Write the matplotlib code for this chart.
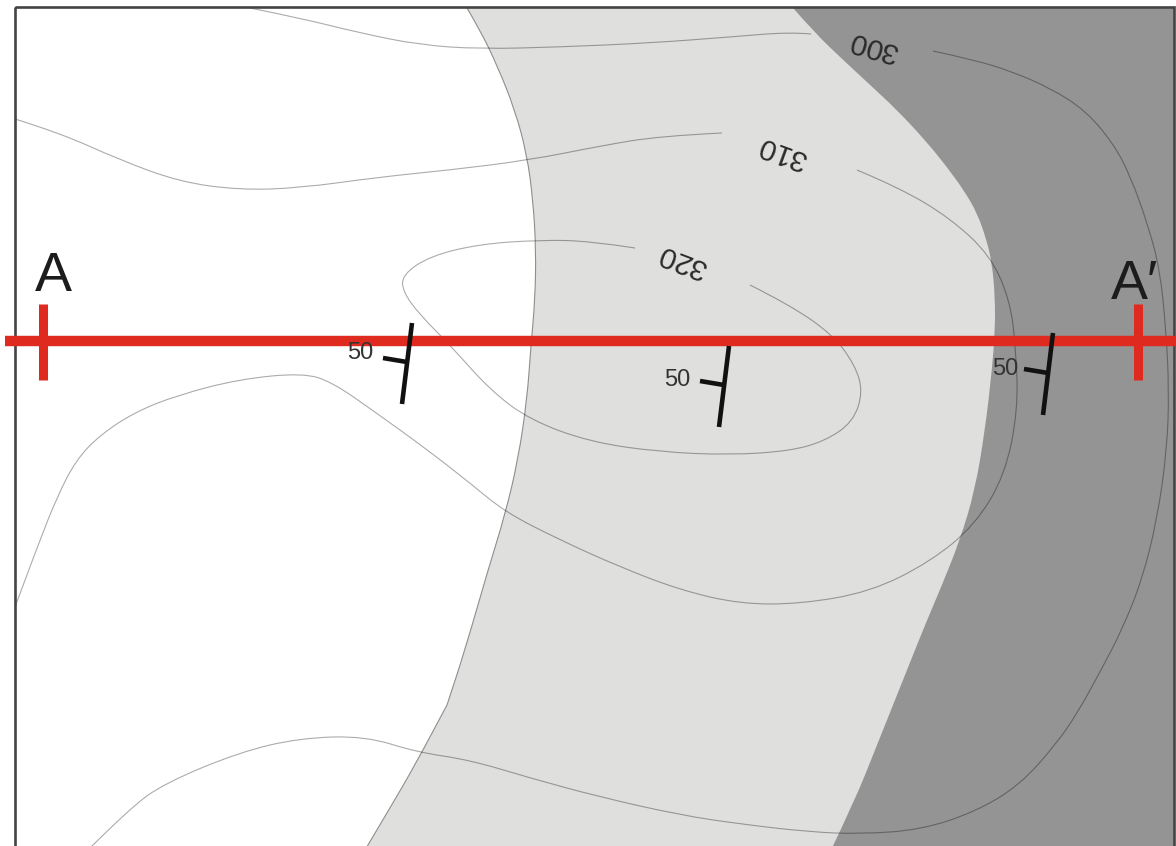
import matplotlib
matplotlib.use("Agg")
import matplotlib.pyplot as plt
from matplotlib.path import Path
from matplotlib.patches import PathPatch, Rectangle

plt.rcParams['font.family'] = ['Liberation Sans', 'DejaVu Sans']

# map outline, in map units
map_left, map_right = 15, 1174
map_top, map_bottom = 7, 850

# unit boundaries
light_edge = [(467, 8), (480, 30), (497, 65), (515, 110), (527, 155), (533, 200), (536, 250),
              (535, 300), (531, 345), (527, 400), (518, 460), (505, 515), (488, 570), (465, 650),
              (447, 705), (447, 705), (415, 765), (390, 808), (365, 850)]
dark_edge = [(793, 8), (815, 33), (840, 57), (868, 83), (897, 110), (925, 140), (947, 167),
             (965, 192), (977, 213), (986, 238), (992, 263), (995, 297), (995, 330), (992, 370),
             (985, 430), (975, 490), (960, 540), (942, 585), (925, 625), (911, 660), (895, 700),
             (875, 750), (855, 800), (831, 850)]

# contour lines
c300_a = [(250, 8), (300, 18), (360, 33), (420, 45), (480, 49), (560, 47), (650, 43), (730, 37),
          (790, 32), (811, 34)]
c300_b = [(933, 51), (975, 60), (1013, 72), (1050, 88), (1085, 110), (1113, 143), (1130, 175),
          (1148, 225), (1160, 270), (1166, 330), (1169, 390), (1167, 450), (1157, 520), (1142, 580),
          (1122, 630), (1100, 672), (1078, 712), (1057, 743), (1020, 785), (975, 812), (920, 830),
          (860, 834), (810, 832), (740, 824), (680, 815), (600, 797), (530, 778), (470, 760),
          (416, 752), (365, 736), (300, 738), (240, 752), (165, 783), (130, 808), (88, 850)]
c310_a = [(15, 119), (60, 133), (120, 160), (180, 182), (240, 190), (300, 188), (380, 177),
          (450, 170), (530, 160), (600, 146), (660, 136), (722, 133)]
c310_b = [(857, 170), (900, 188), (950, 218), (990, 255), (1010, 300), (1016, 350), (1018, 410),
          (1005, 475), (975, 525), (930, 562), (870, 592), (800, 604), (740, 604), (680, 590),
          (620, 567), (560, 540), (505, 512), (470, 483), (425, 448), (375, 412), (332, 382),
          (303, 373), (240, 379), (178, 395), (135, 412), (100, 435), (76, 460), (57, 497),
          (38, 545), (15, 607)]
c320 = [(635, 248), (590, 241), (540, 240), (480, 244), (430, 256), (402, 275), (403, 292),
        (420, 315), (450, 345), (490, 390), (530, 420), (590, 442), (660, 452), (730, 455),
        (790, 451), (825, 441), (853, 422), (863, 392), (855, 365), (833, 335), (790, 305), (750, 285)]
contours = [c300_a, c300_b, c310_a, c310_b, c320]

contour_labels = ["300", "310", "320"]
contour_label_x = [873, 782, 682]
contour_label_y = [46, 152, 261]
contour_label_rot = [164, 160, 159]

# section line
section_y = 341
section_x = [5, 1176]
section_ends_x = [43, 1138]
section_ends_y = [304, 380]
section_names = ["A", "A′"]
section_name_x = [53, 1135]
section_name_y = [291, 299]

# strike and dip symbols
strike_x = [(412, 402), (729, 719), (1053, 1043)]
strike_y = [(323, 404), (346, 427), (333, 415)]
dip_x = [(383, 407), (700, 724), (1024, 1048)]
dip_y = [(358, 362), (381, 385), (369, 373)]
dip_values = ["50", "50", "50"]
dip_label_x = [360, 677, 1005]
dip_label_y = [353, 380, 369]


def smooth(pts):
    # quadratic pieces with the read points as control points
    verts = [pts[0]]
    codes = [Path.MOVETO]
    for i in range(1, len(pts) - 1):
        end = pts[i + 1] if i == len(pts) - 2 else ((pts[i][0] + pts[i + 1][0]) / 2, (pts[i][1] + pts[i + 1][1]) / 2)
        verts += [pts[i], end]
        codes += [Path.CURVE3, Path.CURVE3]
    return verts, codes


def region(edge, far_x):
    verts, codes = smooth(edge)
    verts += [(far_x, edge[-1][1]), (far_x, edge[0][1]), edge[0]]
    codes += [Path.LINETO, Path.LINETO, Path.CLOSEPOLY]
    return Path(verts, codes)


fig = plt.figure(figsize=(11.76, 8.46), dpi=100)
ax = fig.add_axes([0, 0, 1, 1])
ax.set_xlim(0, 1176)
ax.set_ylim(846, 0)
ax.axis('off')

frame = Rectangle((map_left, map_top), map_right - map_left, map_bottom - map_top,
                  fc='white', ec='none', zorder=0)
ax.add_patch(frame)

light = PathPatch(region(light_edge, map_right), fc='#dfe0dd', ec='none', zorder=1)
ax.add_patch(light)
light.set_clip_path(frame)
v, c = smooth(light_edge)
ax.add_patch(PathPatch(Path(v, c), fc='none', ec='#8e8e8e', lw=0.8, zorder=1.5))
dark = PathPatch(region(dark_edge, map_right), fc='#949494', ec='none', zorder=2)
ax.add_patch(dark)

for line in contours:
    v, c = smooth(line)
    p = PathPatch(Path(v, c), fc='none', ec='black', alpha=0.33, lw=0.8, zorder=3)
    ax.add_patch(p)
    p.set_clip_path(frame)

ax.add_patch(Rectangle((map_left, map_top), map_right - map_left, map_bottom - map_top,
                       fc='none', ec='#444444', lw=1.9, zorder=4))

for t, x, y, r in zip(contour_labels, contour_label_x, contour_label_y, contour_label_rot):
    ax.text(x, y, t, rotation=r, rotation_mode='anchor', ha='center', va='center',
            fontsize=21.5, color='#2a2a2a', zorder=5)

ax.plot(section_x, [section_y, section_y], color='#df2a20', lw=7.5, solid_capstyle='butt', zorder=6)
for x in section_ends_x:
    ax.plot([x, x], section_ends_y, color='#df2a20', lw=6.5, solid_capstyle='butt', zorder=6)
for t, x, y in zip(section_names, section_name_x, section_name_y):
    ax.text(x, y, t, ha='center', va='baseline', fontsize=40, color='#1c1c1c', zorder=7)

for i in range(3):
    ax.plot(strike_x[i], strike_y[i], color='#111111', lw=3.3, solid_capstyle='butt', zorder=7)
    ax.plot(dip_x[i], dip_y[i], color='#111111', lw=3.3, solid_capstyle='butt', zorder=7)
    ax.text(dip_label_x[i], dip_label_y[i], dip_values[i], ha='center', va='center',
            fontsize=17, color='#333333', zorder=7)

fig.savefig('out.png', dpi=100)
